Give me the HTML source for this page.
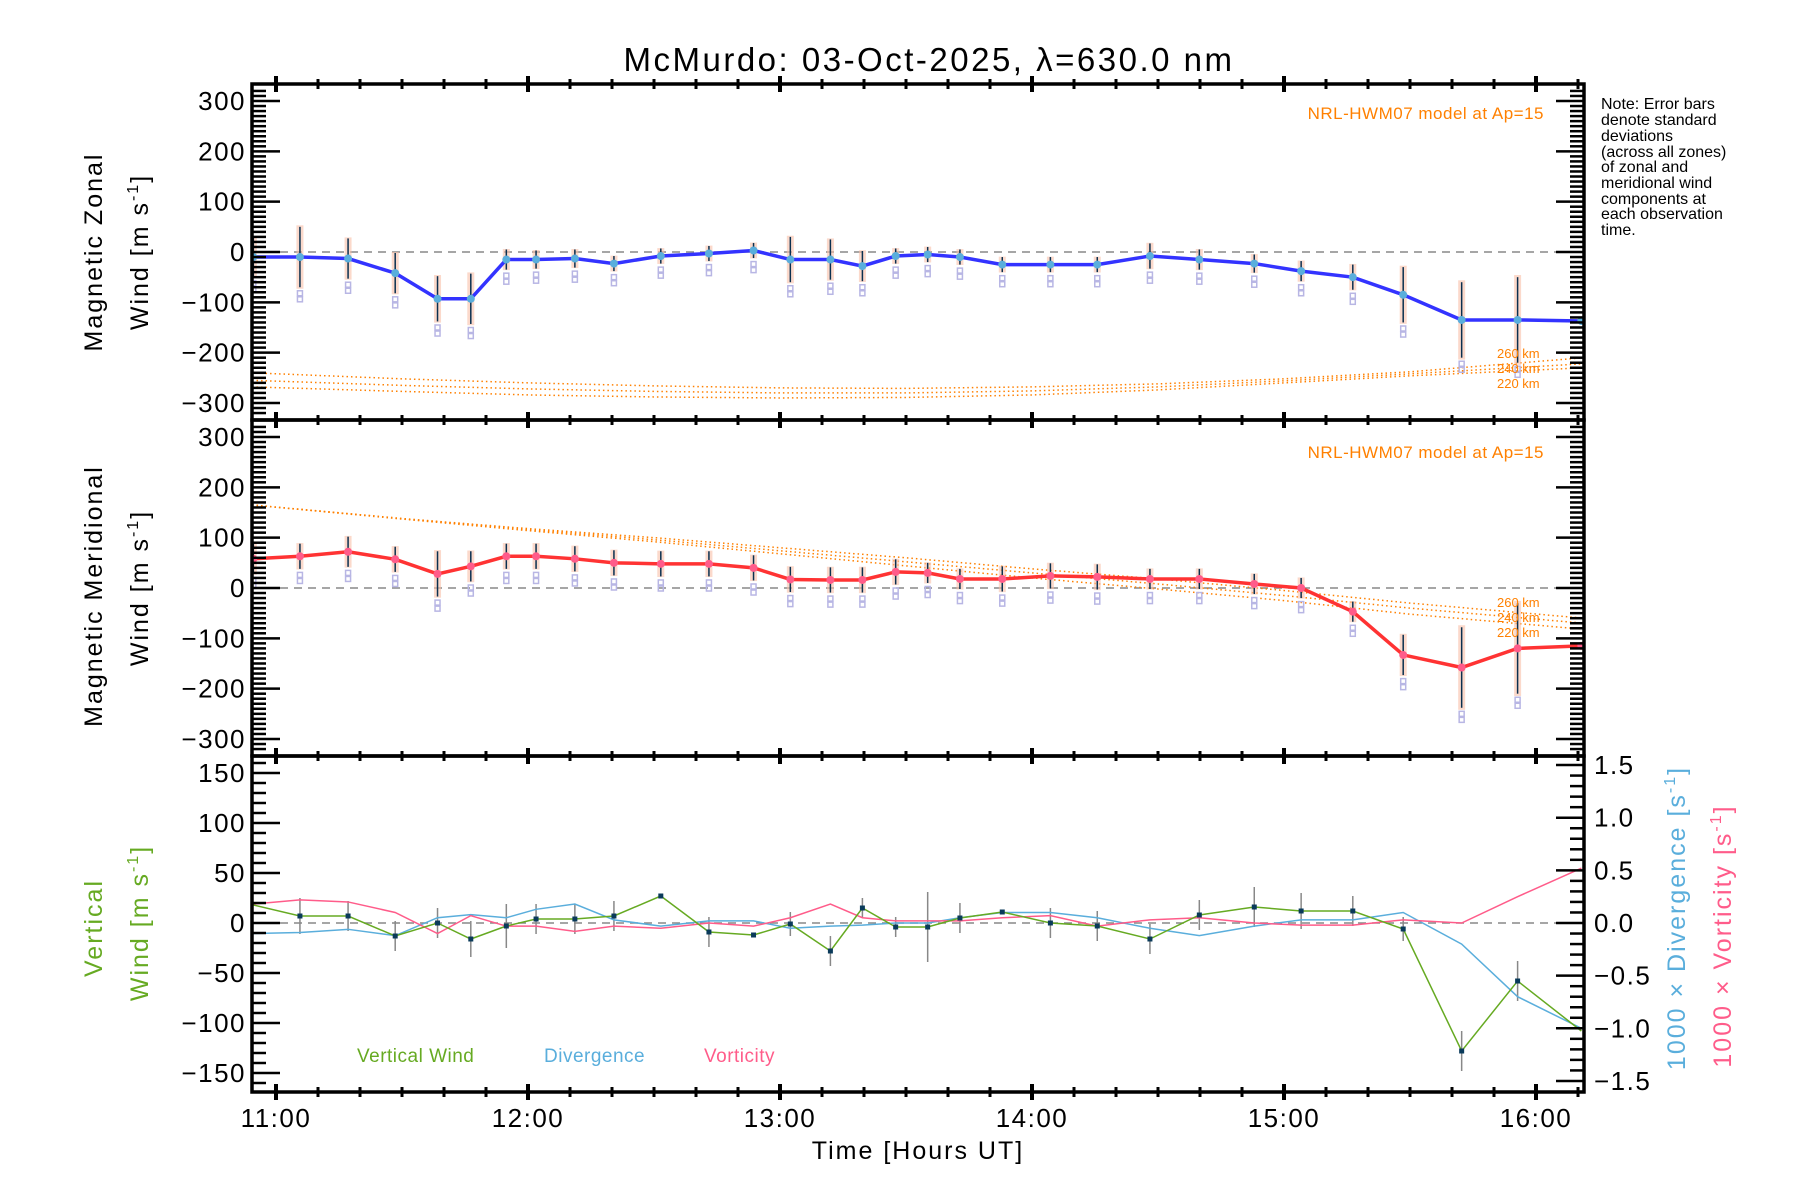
<!DOCTYPE html>
<html><head><meta charset="utf-8">
<style>
html,body{margin:0;padding:0;background:#fff;}
svg{display:block;font-family:"Liberation Sans",sans-serif;}
</style></head>
<body>
<svg id="chart" width="1800" height="1200" viewBox="0 0 1800 1200">
<text x="929" y="71" font-size="33" text-anchor="middle" letter-spacing="2.5">McMurdo: 03-Oct-2025, λ=630.0 nm</text>
<g id="layer"></g>
<g font-size="16">
<text x="1601" y="109">Note: Error bars</text>
<text x="1601" y="125">denote standard</text>
<text x="1601" y="141">deviations</text>
<text x="1601" y="157">(across all zones)</text>
<text x="1601" y="172">of zonal and</text>
<text x="1601" y="188">meridional wind</text>
<text x="1601" y="204">components at</text>
<text x="1601" y="219">each observation</text>
<text x="1601" y="235">time.</text>
</g>
<g font-size="25" letter-spacing="2">
<text transform="translate(102,252) rotate(-90)" text-anchor="middle">Magnetic Zonal</text>
<text transform="translate(148,252) rotate(-90)" text-anchor="middle">Wind [m s<tspan font-size="16" dy="-10">-1</tspan><tspan dy="10">]</tspan></text>
<text transform="translate(102,596) rotate(-90)" text-anchor="middle">Magnetic Meridional</text>
<text transform="translate(148,588) rotate(-90)" text-anchor="middle">Wind [m s<tspan font-size="16" dy="-10">-1</tspan><tspan dy="10">]</tspan></text>
<text transform="translate(102,928) rotate(-90)" text-anchor="middle" fill="#66aa22">Vertical</text>
<text transform="translate(148,923) rotate(-90)" text-anchor="middle" fill="#66aa22">Wind [m s<tspan font-size="16" dy="-10">-1</tspan><tspan dy="10">]</tspan></text>
<text transform="translate(1685,918) rotate(-90)" text-anchor="middle" fill="#5aaedc">1000 × Divergence [s<tspan font-size="16" dy="-10">-1</tspan><tspan dy="10">]</tspan></text>
<text transform="translate(1731,936) rotate(-90)" text-anchor="middle" fill="#ff5c8a">1000 × Vorticity [s<tspan font-size="16" dy="-10">-1</tspan><tspan dy="10">]</tspan></text>
<text x="918" y="1159" text-anchor="middle">Time [Hours UT]</text>
</g>
<g font-size="17" letter-spacing="0.5">
<text x="1544" y="119" text-anchor="end" fill="#ff8000">NRL-HWM07 model at Ap=15</text>
<text x="1544" y="458" text-anchor="end" fill="#ff8000">NRL-HWM07 model at Ap=15</text>
<text x="357" y="1062" fill="#66aa22" font-size="19">Vertical Wind</text>
<text x="544" y="1062" fill="#5aaedc" font-size="19">Divergence</text>
<text x="704" y="1062" fill="#ff5c8a" font-size="19">Vorticity</text>
</g>
<g font-size="13" fill="#ff8000">
<text x="1497" y="358">260 km</text>
<text x="1497" y="373">240 km</text>
<text x="1497" y="388">220 km</text>
<text x="1497" y="607">260 km</text>
<text x="1497" y="622">240 km</text>
<text x="1497" y="637">220 km</text>
</g>
</svg>
<script>
// ---- data ----
const times = [10.91,11.095,11.286,11.473,11.641,11.773,11.914,12.032,12.186,12.341,12.527,12.718,12.895,13.041,13.2,13.327,13.459,13.586,13.714,13.882,14.073,14.259,14.468,14.664,14.882,15.068,15.273,15.473,15.705,15.927,16.18];
const zonal = [-10,-10,-13,-42,-93,-93,-15,-15,-13,-23,-8,-3,3,-15,-15,-28,-8,-5,-10,-25,-25,-25,-8,-15,-23,-38,-50,-85,-135,-135,-137];
const zonalErr = [40,60,40,40,45,50,20,18,18,15,15,15,15,45,40,30,15,15,15,15,15,15,25,20,18,20,25,55,75,85,0];
const merid = [58,63,72,57,28,43,63,63,58,50,48,48,40,17,16,16,32,30,18,18,24,22,18,18,8,0,-47,-133,-158,-120,-115];
const meridErr = [30,25,30,25,45,30,25,25,25,25,25,25,25,25,25,25,25,20,20,25,25,25,20,20,20,20,20,40,80,90,0];
const hwmT = [10.905,11.5,12,12.5,13,13.5,14,14.5,15,15.5,16.19];
const hwmZ260 = [-240,-252,-260,-266,-270,-271,-268,-262,-252,-238,-210];
const hwmZ240 = [-255,-265,-272,-277,-280,-280,-276,-268,-256,-242,-222];
const hwmZ220 = [-268,-277,-284,-288,-290,-289,-284,-274,-260,-246,-230];
const hwmM260 = [165,138,118,100,80,60,38,18,-5,-30,-60];
const hwmM240 = [165,138,116,96,74,52,30,8,-15,-40,-70];
const hwmM220 = [165,137,114,92,68,44,20,-2,-25,-52,-82];
const vwind = [18,7,7,-13,0,-16,-3,4,4,7,27,-9,-12,-1,-28,15,-4,-4,5,11,0,-3,-16,8,16,12,12,-6,-128,-58,-108];
const vwindErr = [0,18,15,15,15,18,22,15,15,15,0,15,0,12,15,10,10,35,15,0,15,15,15,15,20,18,15,12,20,20,0];
const diverg = [-0.1,-0.09,-0.06,-0.12,0.05,0.08,0.05,0.13,0.18,0.03,-0.03,0.02,0.02,-0.05,-0.03,-0.02,0.0,0.0,0.05,0.1,0.1,0.05,-0.05,-0.12,-0.03,0.03,0.03,0.1,-0.2,-0.7,-1.0];
const vortic = [0.18,0.22,0.2,0.1,-0.1,0.07,-0.03,-0.03,-0.08,-0.03,-0.05,0.0,-0.03,0.05,0.18,0.05,0.02,0.02,0.02,0.05,0.07,-0.03,0.03,0.05,0.0,-0.02,-0.02,0.03,0.0,0.25,0.52];
const hourLabels = ["11:00","12:00","13:00","14:00","15:00","16:00"];
const windTicks = [300,200,100,0,-100,-200,-300];
const vertTicks = [150,100,50,0,-50,-100,-150];
const rightTicks = ["1.5","1.0","0.5","0.0","−0.5","−1.0","−1.5"];

// ---- scales ----
const L=252,R=1584;
const x = t => 276 + (t-11)*252;
const y1 = v => 252 - v*0.5033;
const y2 = v => 588 - v*0.5033;
const y3 = v => 923 - v*1.0;
const y3r = v => 923 - v*105.3;
const NS='http://www.w3.org/2000/svg';
const layer=document.getElementById('layer');
function mk(tag,attrs,parent){const e=document.createElementNS(NS,tag);for(const k in attrs)e.setAttribute(k,attrs[k]);(parent||layer).appendChild(e);return e;}
const fmt=v=>String(v).replace('-','−');

const defs=mk('defs',{});
[[84,'c1'],[420,'c2'],[756,'c3']].forEach(([top,id])=>{const cp=mk('clipPath',{id:id},defs);mk('rect',{x:L,y:top,width:R-L,height:336},cp);});

function zeroLine(yy,name){const l=mk('line',{x1:L,x2:R,y1:yy,y2:yy,stroke:'#888','stroke-width':1.5,'stroke-dasharray':'8,6'});

}
zeroLine(y1(0),'zonal-zero-line');zeroLine(y2(0),'meridional-zero-line');zeroLine(y3(0),'vertical-zero-line');

function hwm(arr,ys,clip,name){const g=mk('g',{'clip-path':'url(#'+clip+')'});
const pts=hwmT.map((t,i)=>x(t)+','+ys(arr[i])).join(' ');
const p=mk('polyline',{points:pts,fill:'none',stroke:'#ff8000','stroke-width':1.5,'stroke-dasharray':'1.5,3'},g);

}
hwm(hwmZ260,y1,'c1','hwm-zonal-260');hwm(hwmZ240,y1,'c1','hwm-zonal-240');hwm(hwmZ220,y1,'c1','hwm-zonal-220');
hwm(hwmM260,y2,'c2','hwm-merid-260');hwm(hwmM240,y2,'c2','hwm-merid-240');hwm(hwmM220,y2,'c2','hwm-merid-220');

function windPanel(vals,errs,ys,clip,color,pfx){
 const g=mk('g',{'clip-path':'url(#'+clip+')'});
 vals.forEach((v,i)=>{const xx=x(times[i]);const e=errs[i];if(!e)return;
  const b=mk('rect',{x:xx-3.5,y:ys(v+e*1.05),width:7,height:ys(v-e*1.05)-ys(v+e*1.05),fill:'#f8c0a8',opacity:0.6},g);
  
  
  for(let k=1;k<=2;k++){const q=mk('rect',{x:xx-2.5,y:ys(v-e-k*12)-2.5,width:5,height:5,fill:'none',stroke:'#b8b6e4','stroke-width':1.5},g);
  
  }
  const l=mk('line',{x1:xx,x2:xx,y1:ys(v+e),y2:ys(v-e),stroke:'#0a3050','stroke-width':1.5},g);
  
  });
 const pl=mk('polyline',{points:vals.map((v,i)=>x(times[i])+','+ys(v)).join(' '),fill:'none',stroke:color,'stroke-width':3.5},g);
 
 
 vals.forEach((v,i)=>{const c=mk('circle',{cx:x(times[i]),cy:ys(v),r:4,fill:pfx==='zonal'?'#5aaedc':'#ff5c8a'},g);
 
 });
}
windPanel(zonal,zonalErr,y1,'c1','#3333ff','zonal');
windPanel(merid,meridErr,y2,'c2','#ff3333','meridional');

const g3=mk('g',{'clip-path':'url(#c3)'});
vwind.forEach((v,i)=>{const e=vwindErr[i];if(!e)return;const xx=x(times[i]);
 const l=mk('line',{x1:xx,x2:xx,y1:y3(v+e),y2:y3(v-e),stroke:'#888','stroke-width':1.5},g3);
 
 });
const pd=mk('polyline',{points:diverg.map((v,i)=>x(times[i])+','+y3r(v)).join(' '),fill:'none',stroke:'#5aaedc','stroke-width':1.5},g3);


const pv=mk('polyline',{points:vortic.map((v,i)=>x(times[i])+','+y3r(v)).join(' '),fill:'none',stroke:'#ff5c8a','stroke-width':1.5},g3);


const pw=mk('polyline',{points:vwind.map((v,i)=>x(times[i])+','+y3(v)).join(' '),fill:'none',stroke:'#66aa22','stroke-width':1.5},g3);


vwind.forEach((v,i)=>{if(i===0||i===vwind.length-1)return;const m=mk('rect',{x:x(times[i])-2.5,y:y3(v)-2.5,width:5,height:5,fill:'#0a3a5a'},g3);
 
 });

const ax=mk('g',{stroke:'#000'});
function tick(x1,y1_,x2,y2_,w){mk('line',{x1:x1,y1:y1_,x2:x2,y2:y2_,'stroke-width':w||2},ax);}
[[y1,84,420],[y2,420,756]].forEach(([ys,top,bot])=>{
 for(let v=-330;v<=330;v+=10){const yy=ys(v);if(yy<top+2||yy>bot-2)continue;const maj=v%100===0;
  tick(L,yy,L+(maj?28:14),yy,2.5);tick(R,yy,R-(maj?28:14),yy,2.5);}
});
for(let v=-160;v<=160;v+=10){const yy=y3(v);if(yy<758||yy>1090)continue;const maj=v%50===0;tick(L,yy,L+(maj?28:14),yy,2.5);}
for(let k=-15;k<=15;k++){const yy=y3r(k/10);const maj=k%5===0;tick(R,yy,R-(maj?28:14),yy,2.5);}
[84,420,756,1092].forEach(yb=>{for(let m=0;m<=40;m++){const t=10+m/6;const xx=x(t);if(xx<L+3||xx>R-3)continue;const maj=m%6===0;
 if(maj)tick(xx,yb-8,xx,yb+8,4);else tick(xx,yb-5,xx,yb+5,3);}});
[84,420,756].forEach((top,i)=>{const r=mk('rect',{x:L,y:top,width:R-L,height:336,fill:'none','stroke-width':3.5},ax);
 
 });

const lab=mk('g',{'font-size':26,'letter-spacing':'1.5'});
[[y1],[y2]].forEach(([ys],p)=>windTicks.forEach(v=>{const t=mk('text',{x:246,y:ys(v)+9,'text-anchor':'end'},lab);t.textContent=fmt(v);
 
 }));
vertTicks.forEach(v=>{const t=mk('text',{x:246,y:y3(v)+9,'text-anchor':'end'},lab);t.textContent=fmt(v);
 
 });
rightTicks.forEach((s,i)=>{const t=mk('text',{x:1594,y:y3r(1.5-i*0.5)+9},lab);t.textContent=s;
 
 });
hourLabels.forEach((s,i)=>{const t=mk('text',{x:x(11+i),y:1127,'text-anchor':'middle'},lab);t.textContent=s;
 
 });
</script>
</body></html>
